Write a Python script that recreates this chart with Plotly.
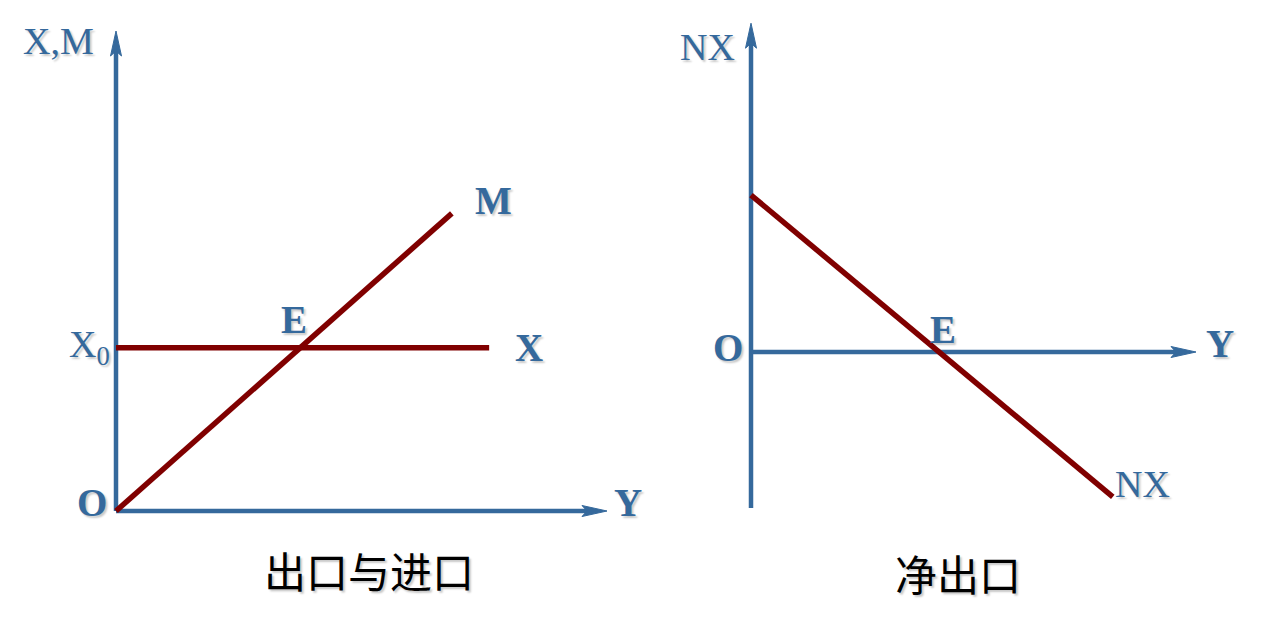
import plotly.graph_objects as go

W, H = 1261, 626
BLUE = "#35699c"
RED = "#800000"
SERIF = "Times New Roman, Liberation Serif, serif"
CJK = "Noto Sans CJK SC, sans-serif"
SHADOW = "2px 2px 2px rgba(0,0,0,0.22)"

# ---------------- data (conceptual units) ----------------
# Left panel: exports X and imports M versus income Y
LEFT_Y_AXIS = [0.0, 10.0]       # horizontal axis (Y) extent
LEFT_XM_AXIS = [0.0, 10.0]      # vertical axis (X,M) extent
X0 = 3.4
M_INCOME = [0.0, 6.84]
M_VALUE = [0.0, 6.2]
X_INCOME = [0.0, 7.6]
X_VALUE = [X0, X0]

# Right panel: net exports NX versus income Y
RIGHT_Y_AXIS = [0.0, 10.0]
RIGHT_NX_AXIS = [-3.25, 6.85]
NX_INCOME = [0.0, 8.13]
NX_VALUE = [3.27, -3.02]

# ---------------- layout geometry (pixels; page has 8px body offset) ----------------
L_ORIG = (108, 503); L_SX, L_SY = 49.1, 48.0; L_PANEL = (0, 640)
R_ORIG = (743, 344); R_SX, R_SY = 44.5, 48.0; R_PANEL = (640, 1261)


def xrange_for(orig, sx, panel):
    return [(panel[0] - orig[0]) / sx, (panel[1] - orig[0]) / sx]


def yrange_for(orig, sy):
    return [(orig[1] - H) / sy, orig[1] / sy]


HEAD_LEN, HEAD_HALF, NOTCH = 25.0, 5.5, 5.0


def arrow(fig, xs, ys, direction, sx, sy, xa, ya):
    """Axis shaft plus slim arrowhead; xs/ys are the axis start/end values."""
    if direction == "right":
        tip_x, y0 = xs[1], ys[0]
        shaft_end = tip_x - (HEAD_LEN - NOTCH) / sx
        hx = [tip_x, tip_x - HEAD_LEN / sx, tip_x - (HEAD_LEN - NOTCH) / sx,
              tip_x - HEAD_LEN / sx, tip_x]
        hy = [y0, y0 + HEAD_HALF / sy, y0, y0 - HEAD_HALF / sy, y0]
        lx, ly = [xs[0], shaft_end], [y0, y0]
    else:
        tip_y, x0 = ys[1], xs[0]
        shaft_end = tip_y - (HEAD_LEN - NOTCH) / sy
        hy = [tip_y, tip_y - HEAD_LEN / sy, tip_y - (HEAD_LEN - NOTCH) / sy,
              tip_y - HEAD_LEN / sy, tip_y]
        hx = [x0, x0 + HEAD_HALF / sx, x0, x0 - HEAD_HALF / sx, x0]
        lx, ly = [x0, x0], [ys[0], shaft_end]
    fig.add_trace(go.Scatter(x=lx, y=ly, mode="lines", line=dict(color=BLUE, width=4.5),
                             xaxis=xa, yaxis=ya, hoverinfo="skip", showlegend=False))
    fig.add_trace(go.Scatter(x=hx, y=hy, mode="lines", fill="toself", fillcolor=BLUE,
                             line=dict(color=BLUE, width=1), xaxis=xa, yaxis=ya,
                             hoverinfo="skip", showlegend=False))


fig = go.Figure()

# Left panel axes
arrow(fig, [0, 0], LEFT_XM_AXIS, "up", L_SX, L_SY, "x", "y")
arrow(fig, LEFT_Y_AXIS, [0, 0], "right", L_SX, L_SY, "x", "y")
# Left panel curves
fig.add_trace(go.Scatter(x=X_INCOME, y=X_VALUE, mode="lines", line=dict(color=RED, width=5.5),
                         xaxis="x", yaxis="y", showlegend=False, name="X"))
fig.add_trace(go.Scatter(x=M_INCOME, y=M_VALUE, mode="lines", line=dict(color=RED, width=5.5),
                         xaxis="x", yaxis="y", showlegend=False, name="M"))

# Right panel axes
arrow(fig, [0, 0], RIGHT_NX_AXIS, "up", R_SX, R_SY, "x2", "y2")
arrow(fig, RIGHT_Y_AXIS, [0, 0], "right", R_SX, R_SY, "x2", "y2")
fig.add_trace(go.Scatter(x=NX_INCOME, y=NX_VALUE, mode="lines", line=dict(color=RED, width=5.5),
                         xaxis="x2", yaxis="y2", showlegend=False, name="NX"))


def label(text, x, y, xref, yref, bold=False, size=39, color=BLUE, family=SERIF,
          xanchor="center"):
    fig.add_annotation(
        text=f"<b>{text}</b>" if bold else text, x=x, y=y, xref=xref, yref=yref,
        showarrow=False, xanchor=xanchor, yanchor="middle",
        font=dict(family=family, size=size, color=color, shadow=SHADOW))


# Left labels
label("X,M", -1.18, 9.8, "x", "y", size=38)
label("M", 7.68, 6.46, "x", "y", bold=True)
label("E", 3.63, 3.98, "x", "y", bold=True)
label("X<sub>0</sub>", -0.08, 3.41, "x", "y", size=38, xanchor="right")
label("X", 8.41, 3.41, "x", "y", bold=True)
label("O", -0.49, 0.17, "x", "y", bold=True)
label("Y", 10.43, 0.17, "x", "y", bold=True)
label("出口与进口", 5.15, -1.22, "x", "y", size=42, color="#000000", family=CJK)

# Right labels
label("NX", -0.97, 6.35, "x2", "y2", size=38)
label("O", -0.52, 0.1, "x2", "y2", bold=True)
label("E", 4.31, 0.47, "x2", "y2", bold=True)
label("Y", 10.54, 0.17, "x2", "y2", bold=True)
label("NX", 8.79, -2.74, "x2", "y2", size=38)
label("净出口", 4.65, -4.6, "x2", "y2", size=42, color="#000000", family=CJK)

hidden = dict(visible=False, showgrid=False, zeroline=False, fixedrange=True)
fig.update_layout(
    width=W, height=H, margin=dict(l=0, r=0, t=0, b=0),
    paper_bgcolor="white", plot_bgcolor="white", showlegend=False,
    xaxis=dict(domain=[L_PANEL[0] / W, L_PANEL[1] / W],
               range=xrange_for(L_ORIG, L_SX, L_PANEL), anchor="y", **hidden),
    yaxis=dict(domain=[0, 1], range=yrange_for(L_ORIG, L_SY), anchor="x", **hidden),
    xaxis2=dict(domain=[R_PANEL[0] / W, R_PANEL[1] / W],
                range=xrange_for(R_ORIG, R_SX, R_PANEL), anchor="y2", **hidden),
    yaxis2=dict(domain=[0, 1], range=yrange_for(R_ORIG, R_SY), anchor="x2", **hidden),
)

fig.write_html("out.html")
